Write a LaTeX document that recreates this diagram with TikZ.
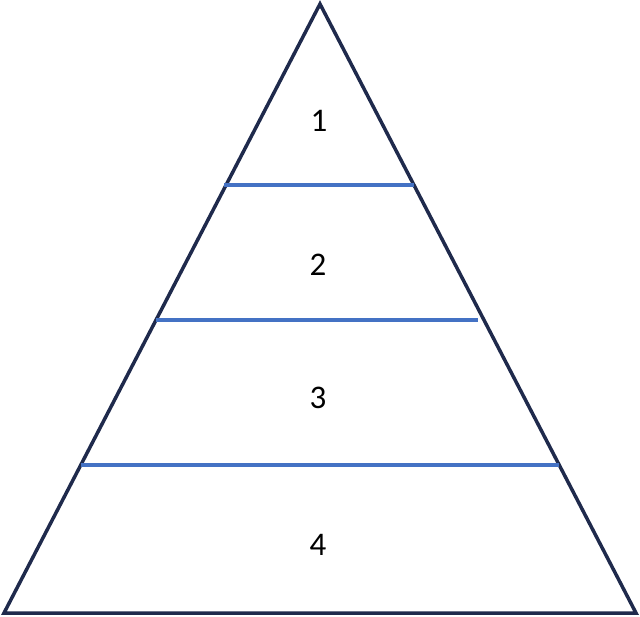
\documentclass[tikz,border=0pt]{standalone}
\usepackage{fontspec}
\setmainfont{Carlito}
\definecolor{navy}{HTML}{1F2A4C}
\definecolor{band}{HTML}{4472C4}
\begin{document}
\begin{tikzpicture}[x=1pt,y=-1pt,
  edge/.style={draw=navy,line width=3.5pt,line join=miter},
  divider/.style={draw=band,line width=3.8pt},
  lbl/.style={font=\fontsize{33}{36}\selectfont,text=black}]
\useasboundingbox (0,0) rectangle (640,617);
\coordinate (apex) at (320,4);
\coordinate (bl) at (4,613);
\coordinate (br) at (636,613);
\draw[edge] (apex) -- (br) -- (bl) -- cycle;
\coordinate (a1) at (224,185); \coordinate (b1) at (414,185);
\coordinate (a2) at (156,320); \coordinate (b2) at (478,320);
\coordinate (a3) at (81,465); \coordinate (b3) at (559,465);
\draw[divider] (a1) -- (b1);
\draw[divider] (a2) -- (b2);
\draw[divider] (a3) -- (b3);
\node[lbl] (l1) at (319,121) {1};
\node[lbl] (l2) at (318,265) {2};
\node[lbl] (l3) at (318,398) {3};
\node[lbl] (l4) at (318,545) {4};
\end{tikzpicture}
\end{document}
